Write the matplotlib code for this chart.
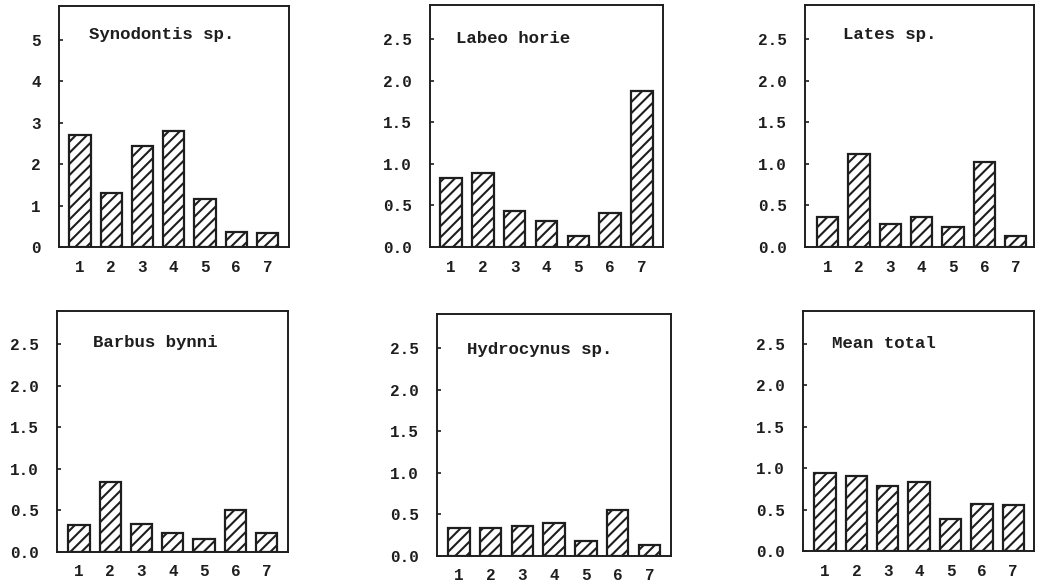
import numpy as np
import matplotlib
matplotlib.use("Agg")
import matplotlib.pyplot as plt

plt.rcParams['font.family'] = ['Liberation Mono', 'DejaVu Sans Mono']
plt.rcParams['font.weight'] = 'bold'
plt.rcParams['hatch.linewidth'] = 1.5

# data
sites = [1, 2, 3, 4, 5, 6, 7]
species = ['Synodontis sp.', 'Labeo horie', 'Lates sp.',
           'Barbus bynni', 'Hydrocynus sp.', 'Mean total']
synodontis = [2.70, 1.30, 2.44, 2.81, 1.17, 0.37, 0.35]
labeo = [0.83, 0.89, 0.43, 0.31, 0.13, 0.41, 1.87]
lates = [0.36, 1.12, 0.28, 0.36, 0.24, 1.02, 0.13]
barbus = [0.33, 0.84, 0.34, 0.23, 0.16, 0.50, 0.23]
hydrocynus = [0.34, 0.34, 0.36, 0.40, 0.18, 0.55, 0.13]
mean_total = [0.94, 0.91, 0.78, 0.83, 0.39, 0.57, 0.55]
series = [synodontis, labeo, lates, barbus, hydrocynus, mean_total]

ytick_sets = [
    ([0, 1, 2, 3, 4, 5], ['0', '1', '2', '3', '4', '5'], 5.82),
    ([0, 0.5, 1, 1.5, 2, 2.5], ['0.0', '0.5', '1.0', '1.5', '2.0', '2.5'], 2.91),
    ([0, 0.5, 1, 1.5, 2, 2.5], ['0.0', '0.5', '1.0', '1.5', '2.0', '2.5'], 2.91),
    ([0, 0.5, 1, 1.5, 2, 2.5], ['0.0', '0.5', '1.0', '1.5', '2.0', '2.5'], 2.90),
    ([0, 0.5, 1, 1.5, 2, 2.5], ['0.0', '0.5', '1.0', '1.5', '2.0', '2.5'], 2.91),
    ([0, 0.5, 1, 1.5, 2, 2.5], ['0.0', '0.5', '1.0', '1.5', '2.0', '2.5'], 2.90),
]

W, H = 1037, 584
# panel boxes in pixels: left, right, top, bottom
boxes = [(59, 289, 6, 247), (430, 663, 5, 247), (805, 1034, 5, 247),
         (57, 288, 311, 552), (437, 671, 314, 556), (803, 1034, 311, 551)]
xlims = [(0.33, 7.69), (0.34, 7.66), (0.28, 7.58),
         (0.30, 7.68), (0.31, 7.68), (0.30, 7.66)]
title_pos = [(0.13, 0.88), (0.11, 0.86), (0.165, 0.88),
             (0.155, 0.87), (0.13, 0.855), (0.125, 0.865)]

fig = plt.figure(figsize=(W / 100, H / 100), dpi=100)
ink = '#1e1e1e'

for i, vals in enumerate(series):
    l, r, t, b = boxes[i]
    ax = fig.add_axes([l / W, (H - b) / H, (r - l) / W, (b - t) / H])
    ax.bar(sites, vals, width=0.68, color='white', edgecolor=ink,
           linewidth=1.6, hatch='///')
    ticks, labels, top = ytick_sets[i]
    ax.set_ylim(0, top)
    ax.set_xlim(*xlims[i])
    ax.set_yticks(ticks)
    ax.set_yticklabels(labels)
    ax.set_xticks(sites)
    ax.set_xticklabels([str(s) for s in sites])
    ax.tick_params(axis='y', direction='in', length=3, width=1.2,
                   pad=13, labelsize=11.5, colors=ink)
    ax.tick_params(axis='x', length=0, pad=9, labelsize=11.5, colors=ink)
    for sp in ax.spines.values():
        sp.set_linewidth(1.4)
        sp.set_color(ink)
    tx, ty = title_pos[i]
    ax.text(tx, ty, species[i], transform=ax.transAxes, fontsize=12.5,
            fontweight='bold', color=ink, ha='left', va='center')

fig.savefig('out.png', dpi=100)
